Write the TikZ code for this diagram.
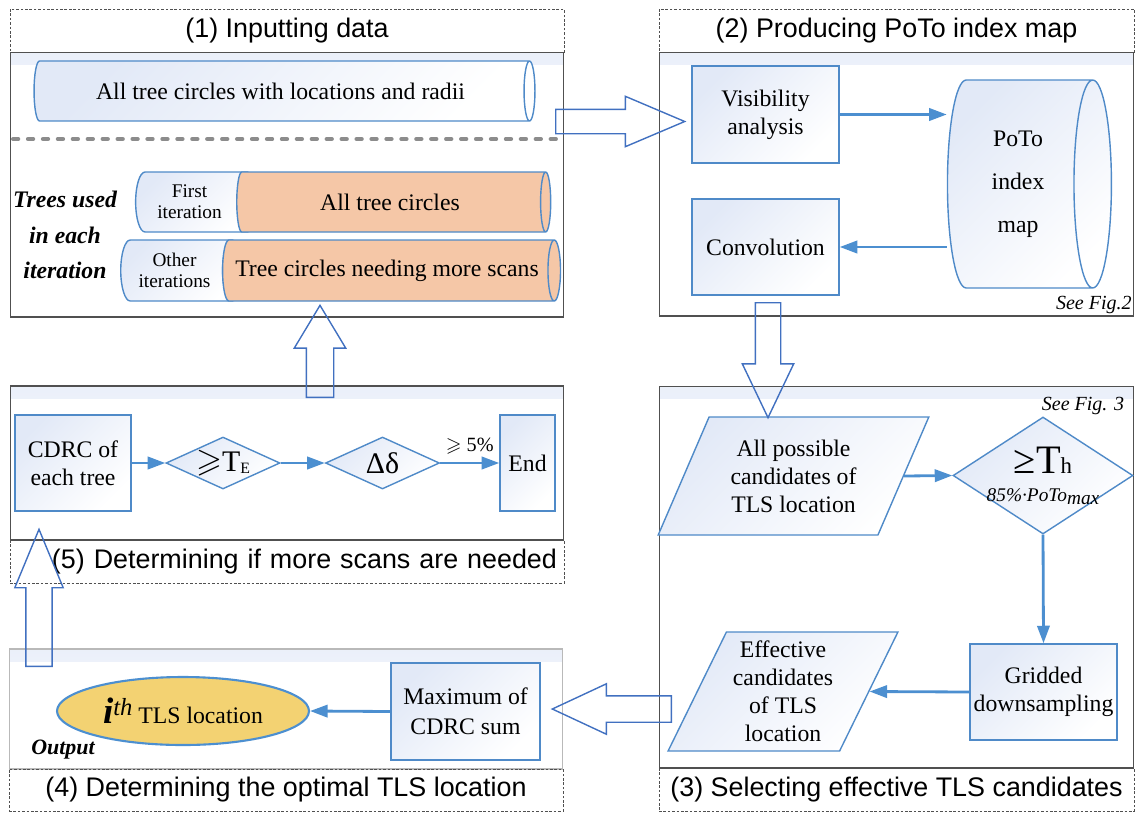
\documentclass[tikz,border=0pt]{standalone}
\usepackage{amssymb}
\usepackage{fontspec}
\setmainfont{Liberation Serif}
\setsansfont{Liberation Sans}
\usetikzlibrary{shapes.geometric,shapes.arrows,arrows.meta,positioning,calc}
\definecolor{BoxBlue}{HTML}{4F8AC8}
\definecolor{ArrowBlue}{HTML}{4C8FD0}
\definecolor{HollowBlue}{HTML}{4170C0}
\definecolor{SoftBlue}{HTML}{E2E9F7}
\definecolor{SoftPeach}{HTML}{F5C7A7}
\definecolor{SoftGold}{HTML}{F3D272}
\definecolor{PanelGray}{HTML}{505050}
\definecolor{DashGray}{HTML}{8C8C8C}
\tikzset{
  TB/.style={rectangle,draw=PanelGray,dash pattern=on 1.5pt off 1pt,line width=0.5pt,
             minimum height=0.86cm,inner sep=0pt,
             font=\sffamily\fontsize{15.3}{18}\selectfont},
  PB/.style={rectangle,draw=PanelGray,line width=0.6pt,inner sep=0pt,
             path picture={\fill[top color=SoftBlue!70,bottom color=white]
               (path picture bounding box.north west) rectangle
               ([yshift=-7pt]path picture bounding box.north east);}},
  FB/.style={rectangle,draw=BoxBlue,line width=0.8pt,
             top color=SoftBlue,bottom color=white,shading angle=45,
             align=center,inner sep=2pt,font=\fontsize{13.5}{16}\selectfont},
  DM/.style={diamond,draw=BoxBlue,line width=0.8pt,
             top color=SoftBlue,bottom color=white,shading angle=45,inner sep=0pt},
  PG/.style={trapezium,trapezium left angle=63,trapezium right angle=117,
             trapezium stretches=true,draw=BoxBlue,line width=0.8pt,
             top color=SoftBlue,bottom color=white,shading angle=45,
             align=center,inner sep=1pt,font=\fontsize{13.5}{16}\selectfont},
  CY/.style={cylinder,draw=BoxBlue,line width=0.8pt,align=center,inner sep=1pt,
             font=\fontsize{13.5}{16}\selectfont},
  cB/.style={CY,top color=SoftBlue,bottom color=white,shading angle=45},
  cP/.style={CY,fill=SoftPeach},
  arr/.style={-{Triangle[length=10pt,width=7pt]},line width=1.6pt,draw=ArrowBlue},
  HA/.style={single arrow,draw=HollowBlue,line width=0.8pt,inner xsep=0pt,anchor=tail},
  note/.style={font=\itshape\fontsize{11.4}{13}\selectfont,inner sep=0pt}
}
\begin{document}
\begin{tikzpicture}[x=0.02cm,y=-0.02cm]
  \useasboundingbox (0,0) rectangle (1135,812);

  % panels
  \node[TB,minimum width=11.08cm] (inttl) at (287,30.5) {(1) Inputting data};
  \node[PB,minimum width=11.08cm,minimum height=5.30cm] (inpnl) at (287,184.5) {};
  \node[TB,minimum width=9.50cm] (mapttl) at (896.5,30.5) {(2) Producing PoTo index map};
  \node[PB,minimum width=9.50cm,minimum height=5.28cm] (mappnl) at (896.5,184) {};
  \node[PB,minimum width=11.08cm,minimum height=3.08cm] (chkpnl) at (287,463) {};
  \node[TB,minimum width=11.08cm,text width=10.8cm,align=right] (chkttl) at (287,561.5) {(5) Determining if more scans are needed};
  \node[PB,draw=gray!55,minimum width=11.08cm,minimum height=2.40cm] (optpnl) at (286,709) {};
  \node[TB,minimum width=11.08cm,minimum height=0.84cm] (optttl) at (286,790) {(4) Determining the optimal TLS location};
  \node[PB,minimum width=9.50cm,minimum height=7.64cm] (selpnl) at (896.5,577) {};
  \node[TB,minimum width=9.50cm] (selttl) at (896.5,789.5) {(3) Selecting effective TLS candidates};

  % (1) inputting data
  \node[cB,minimum height=10.02cm,minimum width=1.2cm,aspect=0.54] (allcyl) at (280.5,91) {All tree circles with locations and radii};
  \draw[DashGray,line width=2.3pt,line cap=round,dash pattern=on 3pt off 5.5pt] (13,139) -- (556,139);
  \node[cB,minimum height=2.42cm,minimum width=1.2cm,aspect=0.5,font=\fontsize{11}{12}\selectfont] (firstw) at (189.5,202) {First\\iteration};
  \node[cP,minimum height=6.28cm,minimum width=1.2cm,aspect=0.5] (firsto) at (390,202) {All tree circles};
  \node[cB,minimum height=2.42cm,minimum width=1.22cm,aspect=0.5,font=\fontsize{11}{12}\selectfont] (otherw) at (174.5,270.5) {Other\\iterations};
  \node[cP,minimum height=6.76cm,minimum width=1.22cm,aspect=0.5] (othero) at (387,270.5) {Tree circles needing more scans};
  \node[font=\bfseries\itshape\fontsize{13.5}{20}\selectfont,align=center] (treeuse) at (65,235) {Trees used\\in each\\iteration};

  % (2) PoTo index map
  \node[FB,minimum width=2.94cm,minimum height=1.94cm] (visib) at (765.5,114.5) {Visibility\\analysis};
  \node[cB,minimum height=3.28cm,minimum width=4.16cm,aspect=0.34,font=\fontsize{13.5}{24.5}\selectfont] (poto) at (1018,184) {PoTo\\index\\map};
  \node[FB,minimum width=2.94cm,minimum height=1.92cm] (conv) at (765.5,247) {Convolution};
  \node[note,anchor=east] (seef2) at (1132,305) {See Fig.2};
  \draw[arr] (visib.east) -- (visib.east -| poto.west);
  \draw[arr] (poto.west |- conv.east) -- (conv.east);

  % (3) effective candidates
  \node[PG,minimum width=5.42cm,minimum height=2.36cm] (allcand) at (793.5,476) {All possible\\candidates of\\TLS location};
  \node[DM,minimum width=3.6cm,minimum height=2.34cm,
        label={[inner sep=0pt,align=center,font=\fontsize{11}{16}\selectfont]center:{{\fontsize{23}{16}\selectfont ≥T}{\fontsize{13}{16}\selectfont h}\\\textit{85\%·PoTo\raisebox{-1.5pt}{max}}}}] (thr) at (1043,475.5) {};
  \node[note] (seef3) at (1083,406) {See Fig. 3};
  \node[FB,minimum width=2.94cm,minimum height=1.92cm] (grid) at (1043.5,692) {Gridded\\downsampling};
  \node[PG,minimum width=4.6cm,minimum height=2.38cm] (effcand) at (783,691.5) {Effective\\candidates\\of TLS\\location};
  \draw[arr] (allcand.east) -- (thr.west);
  \draw[arr] (thr.south) -- (grid.north);
  \draw[arr] (grid.west) -- (effcand.east);

  % (4) optimal location
  \node[ellipse,draw=ArrowBlue,line width=1.2pt,fill=SoftGold,minimum width=5.04cm,minimum height=1.36cm,
        inner sep=0pt,font=\fontsize{13.5}{16}\selectfont] (ith) at (183,711)
        {{\fontsize{21}{21}\selectfont\bfseries\itshape i}\raisebox{5pt}{\itshape\fontsize{14}{14}\selectfont th} TLS location};
  \node[FB,minimum width=2.98cm,minimum height=1.94cm,font=\fontsize{13.5}{17}\selectfont] (maxcdrc) at (465.5,711.5) {Maximum of\\CDRC sum};
  \node[font=\bfseries\itshape\fontsize{12.5}{14}\selectfont,inner sep=0pt] (outp) at (63,750) {Output};
  \draw[arr] (maxcdrc.west) -- (ith.east);

  % (5) more scans
  \node[FB,minimum width=2.32cm,minimum height=1.92cm] (cdrc) at (73,463) {CDRC of\\each tree};
  \node[DM,minimum width=2.28cm,minimum height=1.04cm,aspect=2.2] (te) at (223,463)
        {{\fontsize{19}{19}\selectfont$\geqslant$}{\fontsize{17}{17}\selectfont T}\raisebox{-1.5pt}{\fontsize{9}{9}\selectfont E}};
  \node[DM,minimum width=2.28cm,minimum height=1.04cm,aspect=2.2,font=\fontsize{17}{17}\selectfont] (dd) at (382.5,463) {Δδ};
  \node[FB,minimum width=1.1cm,minimum height=1.92cm,inner sep=0pt] (endb) at (527.5,463) {End};
  \draw[arr] (cdrc) -- (te);
  \draw[arr] (te) -- (dd);
  \draw[arr] (dd) -- node[above=1pt,font=\fontsize{11.5}{13}\selectfont]{$\geqslant$ 5\%} (endb);

  % hollow arrows between stages
  \node[HA,minimum height=2.58cm,minimum width=0.98cm,inner ysep=0.23cm,single arrow head extend=0.26cm,single arrow tip angle=46] (a12) at (555,121.5) {};
  \node[HA,rotate=-90,minimum height=2.3cm,minimum width=1.0cm,inner ysep=0.24cm,single arrow head extend=0.26cm,single arrow tip angle=51] (a23) at (768,302) {};
  \node[HA,rotate=180,minimum height=2.38cm,minimum width=0.98cm,inner ysep=0.25cm,single arrow head extend=0.24cm,single arrow tip angle=50] (a34) at (672,709) {};
  \node[HA,rotate=90,minimum height=2.74cm,minimum width=0.94cm,inner ysep=0.25cm,single arrow head extend=0.22cm,single arrow tip angle=45] (a45) at (39,667) {};
  \node[HA,rotate=90,minimum height=1.84cm,minimum width=1.0cm,inner ysep=0.26cm,single arrow head extend=0.24cm,single arrow tip angle=62] (a51) at (320,398) {};
\end{tikzpicture}
\end{document}
